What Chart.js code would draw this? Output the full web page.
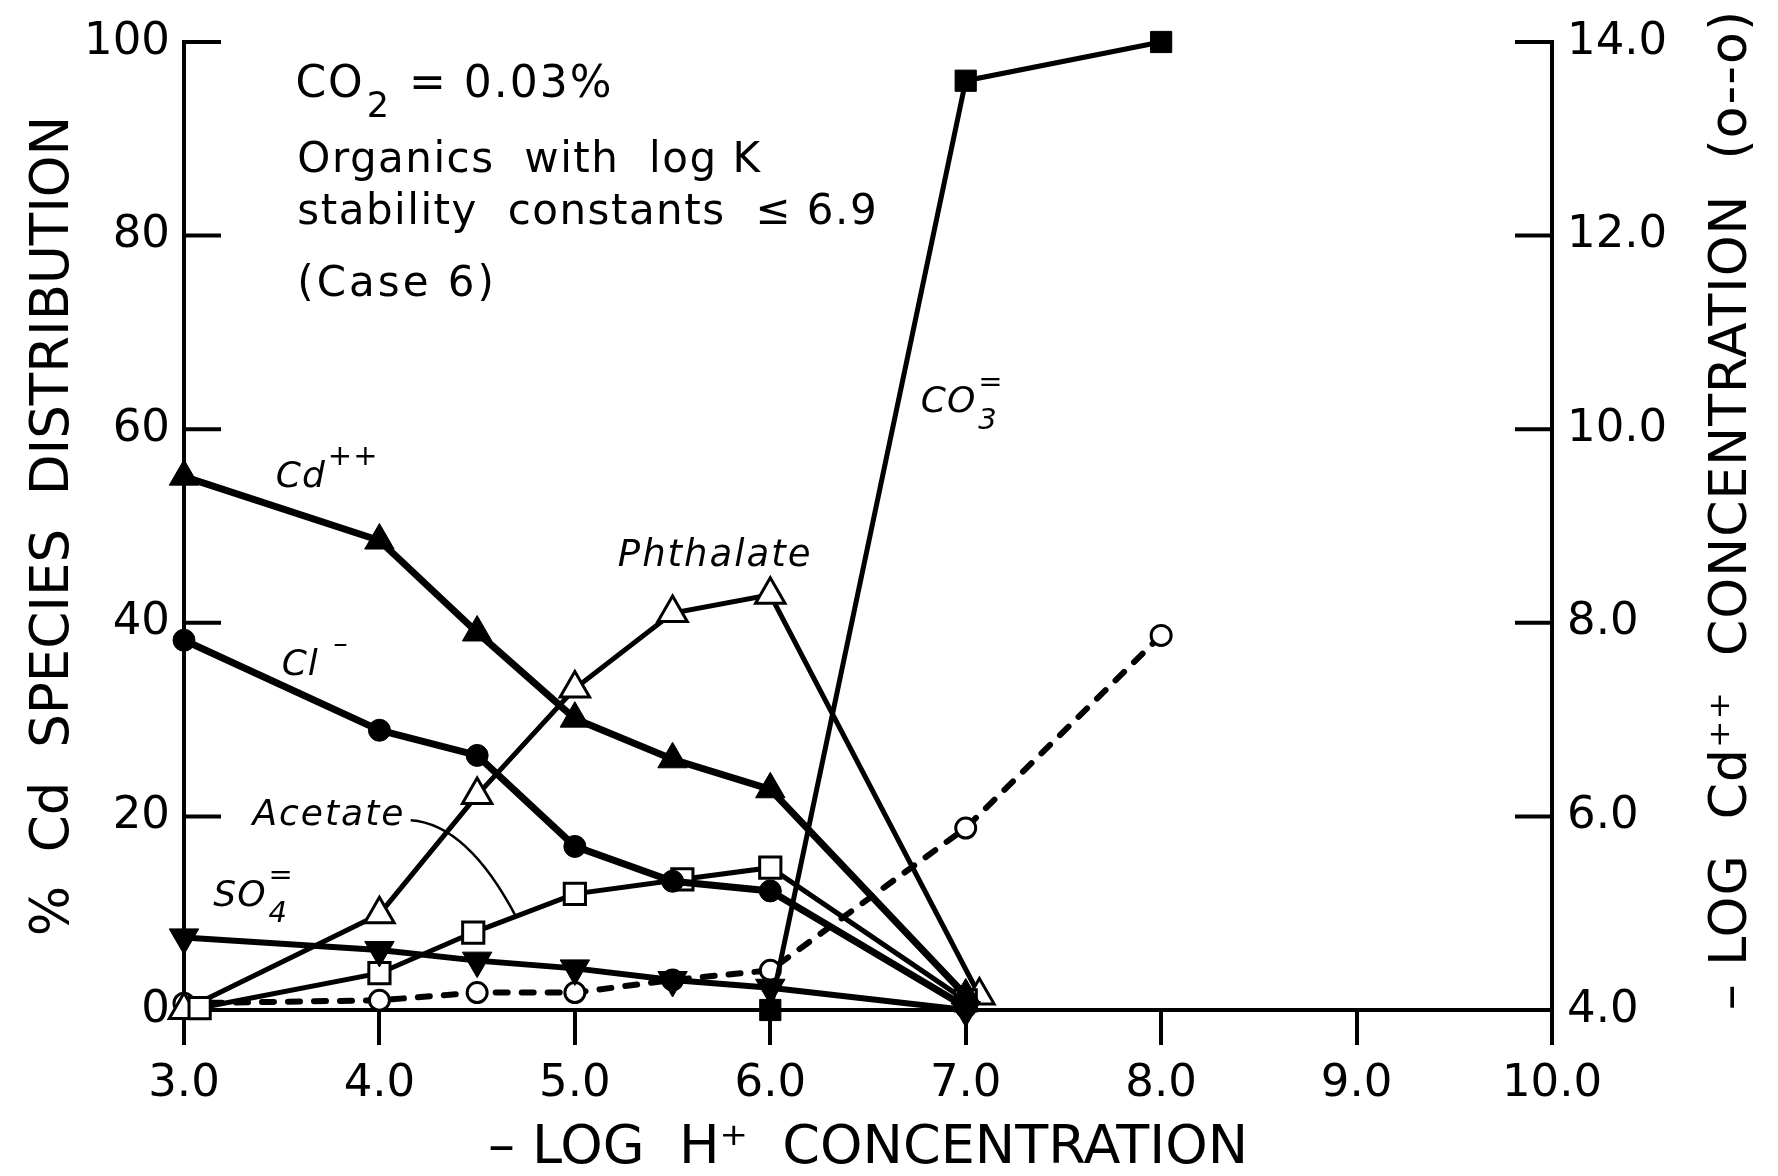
<!DOCTYPE html>
<html><head><meta charset="utf-8">
<script src="https://cdn.jsdelivr.net/npm/chart.js@4.4.0/dist/chart.umd.min.js"></script>
<style>html,body{margin:0;padding:0;background:#fff;}</style>
</head><body>
<canvas id="c" width="1778" height="1176"></canvas>
<script>
// ---- data ----
const pH = [3.0, 4.0, 4.5, 5.0, 5.5, 6.0, 7.0];
const cdFree = [55.1, 48.5, 39.0, 30.1, 25.9, 22.8, 1.5];
const chloride = [38.2, 28.9, 26.3, 16.9, 13.3, 12.3, 0.3];
const sulfate = [7.5, 6.2, 5.1, 4.3, 3.1, 2.3, 0.0];
const phthalatePH = [3.0, 4.0, 4.5, 5.0, 5.5, 6.0, 7.07];
const phthalate = [0.0, 9.9, 22.2, 33.2, 41.0, 42.9, 1.5];
const acetatePH = [3.08, 4.0, 4.48, 5.0, 5.55, 6.0, 7.0];
const acetate = [0.2, 3.8, 8.0, 12.0, 13.5, 14.7, 1.0];
const carbonatePH = [6.0, 7.0, 8.0];
const carbonate = [0.0, 96.0, 100.0];
const logCdPH = [3.0, 4.0, 4.5, 5.0, 5.5, 6.0, 7.0, 8.0];
const logCd = [4.07, 4.10, 4.18, 4.18, 4.31, 4.41, 5.88, 7.87];
const xTicks = [3, 4, 5, 6, 7, 8, 9, 10];
const yTicks = [0, 20, 40, 60, 80, 100];
const y2Ticks = [4, 6, 8, 10, 12, 14];

function pts(xs, ys) { return xs.map((x, i) => ({x: x, y: ys[i]})); }

const K = '#000';
const FONT = "'DejaVu Sans', sans-serif";

// text annotations (data coordinates on x / y axes)
const notes = [
  {x: 3.57, y: 95.5, size: 44, ls: 2, italic: false, segs: [{t: 'CO'}, {sub: '2'}, {t: ' = 0.03%'}]},
  {x: 3.58, y: 87.7, size: 42, ls: 1.5, italic: false, segs: [{t: 'Organics  with  log K'}]},
  {x: 3.58, y: 82.3, size: 42, ls: 1.5, italic: false, segs: [{t: 'stability  constants  \u2264 6.9'}]},
  {x: 3.58, y: 74.9, size: 42, ls: 3, italic: false, segs: [{t: '(Case 6)'}]},
  {x: 3.47, y: 55.0, size: 36, ls: 1, italic: true, segs: [{t: 'Cd'}, {sup: '++'}]},
  {x: 3.50, y: 35.6, size: 36, ls: 1, italic: true, segs: [{t: 'Cl '}, {sup: '\u2013'}]},
  {x: 5.22, y: 46.9, size: 37, ls: 2, italic: true, segs: [{t: 'Phthalate'}]},
  {x: 3.35, y: 20.1, size: 36, ls: 2, italic: true, segs: [{t: 'Acetate'}]},
  {x: 3.15, y: 11.7, size: 36, ls: 1, italic: true, segs: [{t: 'SO'}, {sup: '=', sub: '4'}]},
  {x: 6.77, y: 62.7, size: 36, ls: 1, italic: true, segs: [{t: 'CO'}, {sup: '=', sub: '3'}]}
];
const acetateLeader = {from: [4.16, 19.6], ctrl: [4.45, 19.2], to: [4.70, 9.6]};

function drawSegs(ctx, px, py, n) {
  const st = n.italic ? 'italic ' : '';
  ctx.letterSpacing = (n.ls || 0) + 'px';
  let cx = px;
  n.segs.forEach(s => {
    if (s.t) {
      ctx.font = st + n.size + 'px ' + FONT;
      ctx.fillText(s.t, cx, py);
      cx += ctx.measureText(s.t).width;
    } else {
      ctx.font = st + Math.round(n.size * 0.8) + 'px ' + FONT;
      let w = 0;
      if (s.sup) { ctx.fillText(s.sup, cx + 2, py - n.size * 0.55); w = Math.max(w, ctx.measureText(s.sup).width); }
      if (s.sub) { ctx.fillText(s.sub, cx + 2, py + n.size * 0.5); w = Math.max(w, ctx.measureText(s.sub).width); }
      cx += w + 4;
    }
  });
  ctx.letterSpacing = '0px';
}

const decor = {
  id: 'decor',
  beforeDatasetsDraw(chart) {
    const {ctx, scales: {x, y, y2}} = chart;
    ctx.save();
    ctx.strokeStyle = K; ctx.lineWidth = 4;
    yTicks.forEach(v => { const py = y.getPixelForValue(v); ctx.beginPath(); ctx.moveTo(x.left, py); ctx.lineTo(x.left + 37, py); ctx.stroke(); });
    y2Ticks.forEach(v => { const py = y2.getPixelForValue(v); ctx.beginPath(); ctx.moveTo(x.right, py); ctx.lineTo(x.right - 37, py); ctx.stroke(); });
    // acetate leader line
    ctx.lineWidth = 2.5;
    ctx.beginPath();
    ctx.moveTo(x.getPixelForValue(acetateLeader.from[0]), y.getPixelForValue(acetateLeader.from[1]));
    ctx.quadraticCurveTo(x.getPixelForValue(acetateLeader.ctrl[0]), y.getPixelForValue(acetateLeader.ctrl[1]),
                         x.getPixelForValue(acetateLeader.to[0]), y.getPixelForValue(acetateLeader.to[1]));
    ctx.stroke();
    ctx.restore();
  },
  afterDraw(chart) {
    const {ctx, scales: {x, y}} = chart;
    ctx.save();
    ctx.fillStyle = K; ctx.textBaseline = 'middle'; ctx.textAlign = 'left';
    notes.forEach(n => drawSegs(ctx, x.getPixelForValue(n.x), y.getPixelForValue(n.y), n));
    // right axis title, reading bottom to top
    ctx.translate(1732, 510);
    ctx.rotate(-Math.PI / 2);
    ctx.textAlign = 'center';
    ctx.font = '52px ' + FONT;
    ctx.letterSpacing = '1px';
    ctx.fillText('\u2013 LOG  Cd\u207A\u207A  CONCENTRATION  (o--o)', 0, 0);
    ctx.restore();
  }
};

const common = {showLine: true, borderColor: K, pointBorderColor: K, clip: false, tension: 0};

new Chart(document.getElementById('c'), {
  type: 'scatter',
  data: {
    datasets: [
      Object.assign({}, common, {label: 'Cd++', data: pts(pH, cdFree), borderWidth: 7, pointStyle: 'triangle', pointRadius: 17, pointBackgroundColor: K, pointBorderWidth: 1}),
      Object.assign({}, common, {label: 'Cl-', data: pts(pH, chloride), borderWidth: 7, pointStyle: 'circle', pointRadius: 11, pointBackgroundColor: K, pointBorderWidth: 1}),
      Object.assign({}, common, {label: 'SO4=', data: pts(pH, sulfate), borderWidth: 6, pointStyle: 'triangle', pointRotation: 180, pointRadius: 17, pointBackgroundColor: K, pointBorderWidth: 1}),
      Object.assign({}, common, {label: 'Acetate', data: pts(acetatePH, acetate), borderWidth: 5, pointStyle: 'rect', pointRadius: 15, pointBackgroundColor: '#fff', pointBorderWidth: 3}),
      Object.assign({}, common, {label: 'Phthalate', data: pts(phthalatePH, phthalate), borderWidth: 5, pointStyle: 'triangle', pointRadius: 17, pointBackgroundColor: '#fff', pointBorderWidth: 3}),
      Object.assign({}, common, {label: 'CO3=', data: pts(carbonatePH, carbonate), borderWidth: 5, pointStyle: 'rect', pointRadius: 15, pointBackgroundColor: K, pointBorderWidth: 1}),
      Object.assign({}, common, {label: '-log Cd++', data: pts(logCdPH, logCd), yAxisID: 'y2', borderWidth: 6, borderDash: [12, 14], borderCapStyle: 'round', pointStyle: 'circle', pointRadius: 10, pointBackgroundColor: '#fff', pointBorderWidth: 3})
    ]
  },
  options: {
    responsive: false,
    animation: false,
    layout: {padding: {top: 35, left: 0, right: 0, bottom: 0}},
    plugins: {legend: {display: false}, tooltip: {enabled: false}},
    scales: {
      x: {
        type: 'linear', min: 3, max: 10,
        afterFit: s => { s.height = 166; },
        afterBuildTicks: s => { s.ticks = xTicks.map(v => ({value: v})); },
        border: {display: true, color: K, width: 4},
        grid: {display: true, drawOnChartArea: false, drawTicks: true, tickLength: 35, color: K, lineWidth: 4},
        ticks: {color: K, font: {family: FONT, size: 45}, padding: 12, maxRotation: 0, autoSkip: false, callback: v => v.toFixed(1)},
        title: {display: true, text: '\u2013 LOG  H\u207A  CONCENTRATION', color: K, font: {family: FONT, size: 54, lineHeight: 1}, padding: {top: 0, bottom: 0}}
      },
      y: {
        type: 'linear', position: 'left', min: 0, max: 100,
        afterFit: s => { s.width = 184; },
        afterBuildTicks: s => { s.ticks = yTicks.map(v => ({value: v})); },
        border: {display: true, color: K, width: 4},
        grid: {display: false, drawTicks: false},
        ticks: {color: K, font: {family: FONT, size: 45}, padding: 14, callback: v => String(v)},
        title: {display: true, text: '%  Cd  SPECIES  DISTRIBUTION', color: K, font: {family: FONT, size: 53, lineHeight: 1}, padding: {top: 28, bottom: 0}}
      },
      y2: {
        type: 'linear', position: 'right', min: 4, max: 14,
        afterFit: s => { s.width = 226; },
        afterBuildTicks: s => { s.ticks = y2Ticks.map(v => ({value: v})); },
        border: {display: true, color: K, width: 4},
        grid: {display: false, drawTicks: false},
        ticks: {color: K, font: {family: FONT, size: 45}, padding: 15, callback: v => v.toFixed(1)}
      }
    }
  },
  plugins: [decor]
});
</script>
</body></html>
